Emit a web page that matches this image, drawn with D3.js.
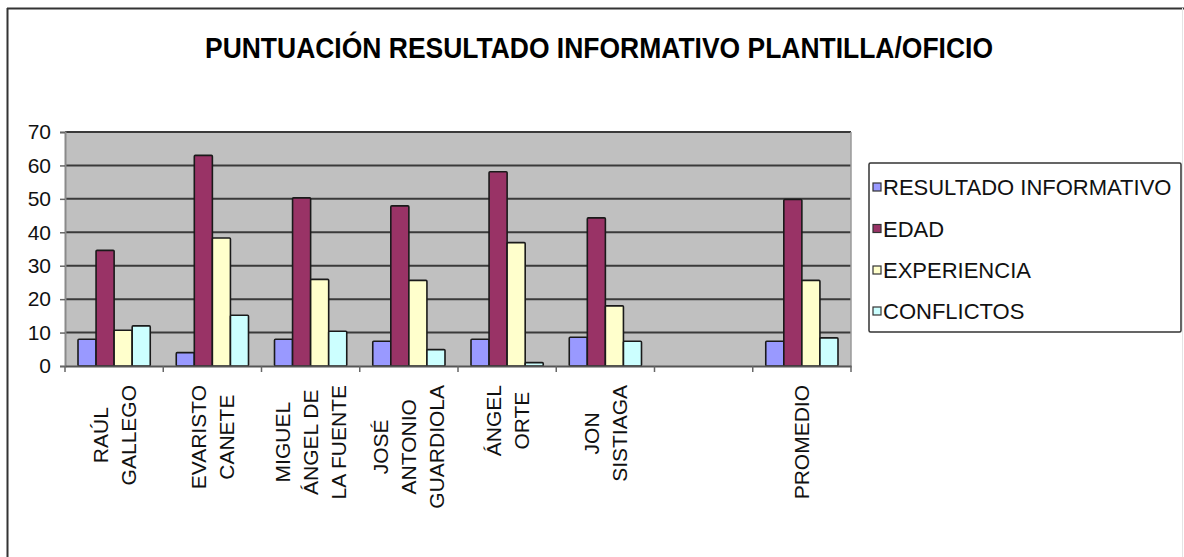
<!DOCTYPE html>
<html>
<head>
<meta charset="utf-8">
<script src="https://cdn.jsdelivr.net/npm/d3@7"></script>
<style>
  html, body { margin: 0; padding: 0; background: #fff; }
  svg { display: block; font-family: "Liberation Sans", Arial, sans-serif; }
</style>
</head>
<body>
<svg id="chart" width="1184" height="557"></svg>
<script>
// ---- data ----
const title = "PUNTUACIÓN RESULTADO INFORMATIVO PLANTILLA/OFICIO";
const categories = [
  ["RAÚL", "GALLEGO"],
  ["EVARISTO", "CANETE"],
  ["MIGUEL", "ÁNGEL DE", "LA FUENTE"],
  ["JOSÉ", "ANTONIO", "GUARDIOLA"],
  ["ÁNGEL", "ORTE"],
  ["JON", "SISTIAGA"],
  [""],
  ["PROMEDIO"]
];
const seriesNames = ["RESULTADO INFORMATIVO", "EDAD", "EXPERIENCIA", "CONFLICTOS"];
const resultadoInformativo = [8, 4, 8, 7.4, 8, 8.6, null, 7.4];
const edad = [34.6, 63, 50.3, 47.9, 58.1, 44.3, null, 49.8];
const experiencia = [10.7, 38.3, 25.9, 25.6, 36.9, 18, null, 25.6];
const conflictos = [12, 15.2, 10.4, 4.9, 1, 7.4, null, 8.4];
const yTicks = [0, 10, 20, 30, 40, 50, 60, 70];
const seriesColors = ["#9999FF", "#993366", "#FFFFCC", "#CCFFFF"];

const seriesValues = [resultadoInformativo, edad, experiencia, conflictos];

// ---- layout ----
const svg = d3.select("#chart");
const plot = { left: 65, right: 851, top: 132, bottom: 366 };

// outer frame
svg.append("line").attr("x1", 7).attr("x2", 1184).attr("y1", 8.5).attr("y2", 8.5)
  .attr("stroke", "#333").attr("stroke-width", 2);
svg.append("line").attr("x1", 7.5).attr("x2", 7.5).attr("y1", 8).attr("y2", 557)
  .attr("stroke", "#333").attr("stroke-width", 2);
svg.append("line").attr("x1", 1182.5).attr("x2", 1182.5).attr("y1", 8).attr("y2", 557)
  .attr("stroke", "#e4e4e4").attr("stroke-width", 1);

// title
svg.append("text")
  .attr("x", 205).attr("y", 58)
  .attr("font-size", 29).attr("font-weight", "bold")
  .attr("textLength", 788).attr("lengthAdjust", "spacingAndGlyphs")
  .attr("fill", "#000")
  .text(title);

const idx = categories.map((d, i) => i);
const x0 = d3.scaleBand().domain(idx).range([plot.left, plot.right]).paddingInner(0).paddingOuter(0);
const x1 = d3.scaleBand().domain(d3.range(seriesNames.length)).range([0, x0.bandwidth()])
  .paddingInner(0).paddingOuter(0.72);
const y = d3.scaleLinear().domain([0, 70]).range([plot.bottom, plot.top]);

// plot background
svg.append("rect")
  .attr("x", plot.left).attr("y", plot.top)
  .attr("width", plot.right - plot.left).attr("height", plot.bottom - plot.top)
  .attr("fill", "#C0C0C0");

// gridlines
svg.append("g").selectAll("line").data(yTicks.filter(t => t > 0)).join("line")
  .attr("x1", plot.left).attr("x2", plot.right)
  .attr("y1", d => y(d)).attr("y2", d => y(d))
  .attr("stroke", "#3a3a3a").attr("stroke-width", 2);

// right edge of plot
svg.append("line").attr("x1", plot.right).attr("x2", plot.right)
  .attr("y1", plot.top).attr("y2", plot.bottom)
  .attr("stroke", "#9a9a9a").attr("stroke-width", 1.5);

// bars
const barG = svg.append("g");
categories.forEach((cat, ci) => {
  seriesValues.forEach((vals, si) => {
    const v = vals[ci];
    if (v == null) return;
    barG.append("rect")
      .attr("x", x0(ci) + x1(si))
      .attr("y", y(v))
      .attr("width", x1.bandwidth())
      .attr("height", y(0) - y(v))
      .attr("fill", seriesColors[si])
      .attr("stroke", "#1a1a1a")
      .attr("stroke-width", 1.6)
      .attr("rx", 1);
  });
});

// y axis
const yAxis = d3.axisLeft(y).tickValues(yTicks).tickSize(5).tickPadding(9);
const yg = svg.append("g").attr("transform", `translate(${plot.left},0)`).call(yAxis);
yg.select(".domain").attr("stroke", "#8a8a8a").attr("stroke-width", 2);
yg.selectAll(".tick line").attr("stroke", "#666").attr("stroke-width", 1.5);
yg.selectAll(".tick text").attr("font-size", 21).attr("fill", "#111")
  .attr("font-family", "'Liberation Sans', Arial, sans-serif");

// x axis
const xAxis = d3.axisBottom(x0).tickValues([]).tickSizeOuter(0);
const xg = svg.append("g").attr("transform", `translate(0,${plot.bottom})`).call(xAxis);
xg.select(".domain").attr("stroke", "#555").attr("stroke-width", 2);
const boundaries = idx.map(i => x0(i)).concat([plot.right]);
svg.append("g").selectAll("line").data(boundaries).join("line")
  .attr("x1", d => d).attr("x2", d => d)
  .attr("y1", plot.bottom).attr("y2", plot.bottom + 6)
  .attr("stroke", "#666").attr("stroke-width", 1.5);

// x labels (rotated, multi-line)
const lineGap = 28;
const labelG = svg.append("g").attr("font-size", 21).attr("fill", "#111");
categories.forEach((lines, ci) => {
  const cx = x0(ci) + x0.bandwidth() / 2;
  const n = lines.length;
  const texts = lines.map((ln, li) => {
    const colX = cx + (li - (n - 1) / 2) * lineGap;
    return labelG.append("text")
      .attr("text-anchor", "middle")
      .attr("data-col", colX)
      .text(ln);
  });
  const maxW = d3.max(texts, t => t.node().getComputedTextLength());
  const cy = 385 + maxW / 2;
  texts.forEach(t => {
    const colX = +t.attr("data-col") + 7.5;
    t.attr("transform", `translate(${colX},${cy}) rotate(-90)`);
  });
});

// legend
const legend = svg.append("g");
legend.append("rect")
  .attr("x", 869).attr("y", 163).attr("width", 312).attr("height", 169)
  .attr("fill", "#fff").attr("stroke", "#333").attr("stroke-width", 1.5).attr("rx", 1.5);
const rowY = [187, 228.5, 270, 311];
seriesNames.forEach((name, i) => {
  legend.append("rect")
    .attr("x", 873).attr("y", rowY[i] - 4).attr("width", 8).attr("height", 8)
    .attr("fill", seriesColors[i]).attr("stroke", "#333").attr("stroke-width", 1.2);
  legend.append("text")
    .attr("x", 883).attr("y", rowY[i] + 8)
    .attr("font-size", 22).attr("fill", "#111")
    .text(name);
});
</script>
</body>
</html>
